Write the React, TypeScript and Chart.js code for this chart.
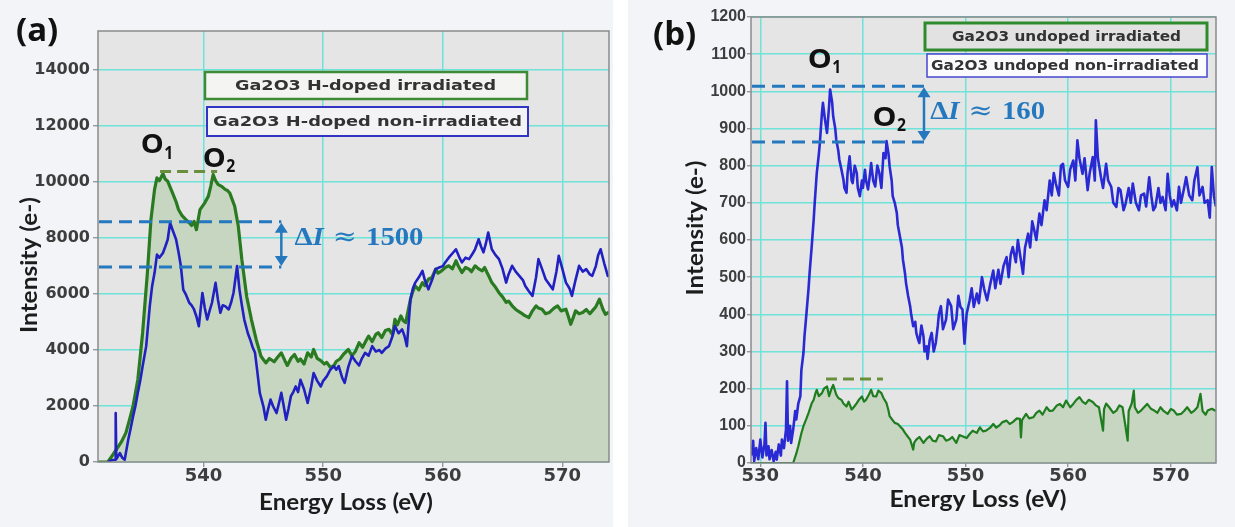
import React, { useEffect, useRef } from "react";
import { Chart, registerables } from "chart.js";
Chart.register(...registerables);

// ---------------- Panel (a) data: [energy (eV), intensity (e-)] ----------------
const aIrradiated: [number, number][] = [
  [531.2, 0], [532.0, 0], [532.4, 250], [532.7, 440], [533.1, 700], [533.5, 1040], [533.8, 1500], [534.1, 2000],
  [534.5, 2940], [534.9, 4610], [535.3, 6760], [535.6, 8670], [535.9, 9740], [536.1, 10150], [536.3, 10050],
  [536.6, 10300], [536.8, 10100], [537.0, 10030], [537.4, 9620], [537.7, 9300], [537.9, 9020], [538.2, 8800],
  [538.5, 8670], [538.8, 8550], [539.0, 8450], [539.2, 8600], [539.4, 8300], [539.7, 9020], [540.1, 9260],
  [540.4, 9500], [540.6, 9860], [540.8, 10270], [541.0, 10050], [541.2, 9920], [541.5, 9850], [541.8, 9740],
  [542.0, 9700], [542.2, 9600], [542.6, 9140], [542.9, 8430], [543.2, 7230], [543.6, 5920], [544.0, 5090],
  [544.4, 4370], [544.8, 3780], [545.2, 3540], [545.5, 3700], [545.9, 3580], [546.2, 3750], [546.5, 3900],
  [546.8, 3620], [547.0, 3450], [547.3, 3700], [547.6, 3840], [547.9, 3600], [548.1, 3680], [548.4, 3500],
  [548.7, 3900], [549.0, 3750], [549.2, 4020], [549.5, 3700], [549.8, 3620], [550.1, 3500], [550.3, 3560],
  [550.6, 3380], [550.9, 3450], [551.1, 3600], [551.4, 3680], [551.7, 3850], [552.1, 4020], [552.4, 3800],
  [552.7, 3960], [553.0, 4260], [553.3, 4100], [553.6, 4350], [553.8, 4500], [554.1, 4300], [554.4, 4560],
  [554.6, 4620], [554.9, 4450], [555.2, 4700], [555.5, 4740], [555.8, 4550], [556.0, 5100], [556.2, 4900],
  [556.5, 5220], [556.7, 5050], [556.9, 4980], [557.1, 5400], [557.3, 5820], [557.5, 6100], [557.7, 6290],
  [558.0, 6150], [558.3, 6410], [558.5, 6300], [558.8, 6530], [559.1, 6600], [559.4, 6890], [559.6, 6750],
  [559.9, 6830], [560.2, 6950], [560.5, 7010], [560.8, 6900], [561.1, 7190], [561.3, 7000], [561.6, 6770],
  [561.9, 6950], [562.2, 6890], [562.4, 6800], [562.7, 7010], [563.0, 6900], [563.3, 6830], [563.5, 6950],
  [563.7, 6770], [563.9, 6600], [564.1, 6410], [564.4, 6250], [564.7, 6050], [565.0, 5900], [565.3, 5700],
  [565.5, 5750], [565.8, 5580], [566.1, 5450], [566.5, 5340], [566.8, 5250], [567.2, 5160], [567.5, 5400],
  [567.8, 5580], [568.0, 5500], [568.3, 5460], [568.6, 5300], [568.9, 5340], [569.3, 5500], [569.6, 5580],
  [569.9, 5400], [570.3, 5460], [570.5, 5200], [570.7, 4920], [570.9, 5150], [571.1, 5400], [571.4, 5300],
  [571.7, 5340], [572.0, 5450], [572.3, 5300], [572.5, 5400], [572.8, 5550], [573.1, 5815], [573.4, 5450],
  [573.6, 5280], [573.9, 5350],
];

const aNonIrradiated: [number, number][] = [
  [532.0, 0], [532.3, 60], [532.6, 80], [532.65, 1750], [532.7, 100], [533.0, 320], [533.2, 150], [533.4, 80],
  [533.7, 800], [533.9, 1200], [534.1, 1630], [534.3, 2000], [534.5, 2470], [534.7, 2900], [534.9, 3420],
  [535.2, 4140], [535.5, 5570], [535.7, 6300], [535.9, 6760], [536.1, 7410], [536.3, 7300], [536.6, 7470],
  [536.8, 7700], [537.0, 7950], [537.2, 8550], [537.4, 8300], [537.7, 7950], [537.9, 7500], [538.1, 7000],
  [538.3, 6160], [538.5, 6000], [538.8, 5690], [539.0, 5600], [539.2, 5450], [539.4, 5200], [539.6, 4850],
  [539.9, 6040], [540.1, 5500], [540.3, 5090], [540.5, 5400], [540.7, 5690], [541.0, 6400], [541.2, 5800],
  [541.4, 5330], [541.6, 5600], [541.8, 5570], [542.1, 5450], [542.3, 5700], [542.5, 6040], [542.8, 7000],
  [543.0, 6160], [543.2, 5600], [543.4, 5090], [543.7, 4600], [543.9, 4370], [544.1, 4100], [544.3, 3900],
  [544.5, 3200], [544.7, 2470], [545.0, 1990], [545.2, 1510], [545.4, 1900], [545.6, 2230], [545.8, 2000],
  [546.1, 1750], [546.3, 2100], [546.5, 2470], [546.7, 2000], [546.9, 1510], [547.1, 1900], [547.3, 2350],
  [547.5, 2500], [547.7, 2700], [547.9, 2500], [548.1, 2940], [548.4, 2600], [548.7, 2110], [549.0, 2700],
  [549.2, 3180], [549.5, 2900], [549.8, 2700], [550.0, 2900], [550.3, 3060], [550.6, 3300], [550.9, 3420],
  [551.1, 3300], [551.3, 3430], [551.6, 3000], [551.8, 2830], [552.1, 3400], [552.4, 3785], [552.7, 3600],
  [553.0, 3450], [553.2, 3665], [553.5, 3900], [553.8, 3800], [554.1, 4140], [554.4, 3950], [554.7, 4000],
  [554.9, 3900], [555.2, 4050], [555.5, 4140], [555.8, 4500], [556.0, 4860], [556.3, 4600], [556.6, 4740],
  [556.8, 4500], [557.0, 4140], [557.3, 5815], [557.5, 6200], [557.7, 6410], [558.0, 6600], [558.3, 6830],
  [558.5, 6500], [558.8, 6170], [559.1, 6500], [559.4, 6890], [559.7, 6950], [560.0, 7000], [560.2, 7130],
  [560.5, 7300], [560.8, 7450], [561.1, 7600], [561.4, 7300], [561.6, 7130], [561.9, 7300], [562.2, 7250],
  [562.5, 7450], [562.7, 7600], [563.0, 7960], [563.2, 7700], [563.4, 7490], [563.6, 7800], [563.8, 8200],
  [564.1, 7600], [564.4, 7400], [564.7, 7250], [565.0, 6900], [565.3, 6410], [565.5, 6700], [565.8, 7010],
  [566.1, 6800], [566.4, 6650], [566.7, 6500], [566.9, 6290], [567.2, 6100], [567.5, 5935], [567.8, 6600],
  [568.0, 7250], [568.3, 6900], [568.6, 6530], [568.9, 6350], [569.2, 6170], [569.5, 6800], [569.7, 7370],
  [570.0, 6900], [570.3, 6410], [570.6, 6200], [570.8, 5935], [571.1, 6500], [571.4, 7010], [571.7, 6800],
  [572.0, 6890], [572.3, 6700], [572.5, 6650], [572.8, 7000], [573.0, 7400], [573.2, 7600], [573.5, 7100],
  [573.8, 6650], [573.9, 6700],
];

const aXTicks = [540, 550, 560, 570];
const aYTicks = [0, 2000, 4000, 6000, 8000, 10000, 12000, 14000];
const aLegendLabels = ["Ga2O3 H-doped irradiated", "Ga2O3 H-doped non-irradiated"];
const aPeakNames = ["O", "O"];
const aPeakSubs = ["1", "2"];
const aPeakLabelX = [535.7, 540.9];
const aPeakLabelY = [11300, 10810];
const aPeakBarX = [536.36, 541.13];
const aPeakBarLevel = 10380;
const aDeltaLevels = [8580, 6970];
const aDeltaArrowX = 546.5;
const aDeltaValue = "1500";
const aDeltaTextAt = [547.6, 7990];

// ---------------- Panel (b) data ----------------
const bIrradiated: [number, number][] = [
  [529.1, 0], [532.0, 0], [533.2, 0], [533.5, 25], [533.7, 45], [534.0, 80], [534.2, 99], [534.5, 120],
  [534.7, 135], [535.0, 160], [535.2, 170], [535.4, 190], [535.5, 197], [535.7, 180], [536.0, 188],
  [536.2, 200], [536.5, 206], [536.7, 180], [536.9, 197], [537.1, 210], [537.4, 184], [537.6, 175],
  [537.9, 170], [538.1, 160], [538.4, 152], [538.6, 165], [538.9, 144], [539.1, 150], [539.4, 161],
  [539.6, 170], [539.9, 179], [540.1, 165], [540.3, 170], [540.6, 185], [540.8, 197], [541.0, 180],
  [541.3, 179], [541.5, 195], [541.8, 188], [542.0, 175], [542.3, 161], [542.5, 140], [542.6, 126],
  [542.9, 115], [543.1, 108], [543.4, 105], [543.6, 99], [543.9, 90], [544.1, 81], [544.4, 70], [544.6, 63],
  [544.9, 36], [545.0, 55], [545.2, 63], [545.5, 70], [545.9, 54], [546.2, 65], [546.5, 72], [546.8, 60],
  [547.1, 58], [547.4, 75], [547.8, 72], [548.1, 60], [548.4, 63], [548.7, 70], [549.1, 54], [549.4, 75],
  [549.7, 72], [550.1, 67], [550.4, 78], [550.7, 87], [551.1, 81], [551.4, 96], [551.7, 85], [552.0, 87],
  [552.4, 95], [552.7, 105], [553.0, 95], [553.3, 101], [553.6, 110], [554.0, 114], [554.3, 105],
  [554.6, 110], [555.0, 120], [555.3, 119], [555.4, 69], [555.5, 115], [555.9, 132], [556.2, 120],
  [556.6, 123], [556.9, 135], [557.2, 141], [557.5, 130], [557.9, 150], [558.2, 140], [558.5, 141],
  [558.9, 155], [559.2, 159], [559.5, 150], [559.8, 168], [560.2, 150], [560.5, 159], [560.8, 170],
  [561.1, 177], [561.4, 165], [561.7, 159], [562.0, 170], [562.4, 164], [562.7, 155], [563.0, 150],
  [563.4, 87], [563.5, 145], [563.7, 160], [564.0, 150], [564.4, 135], [564.7, 141], [565.0, 155],
  [565.3, 150], [565.8, 60], [565.9, 140], [566.2, 160], [566.4, 195], [566.5, 150], [566.8, 135],
  [567.1, 141], [567.4, 150], [567.7, 159], [568.1, 145], [568.4, 141], [568.7, 135], [569.0, 150],
  [569.3, 140], [569.7, 132], [570.0, 145], [570.3, 141], [570.6, 130], [571.0, 132], [571.3, 140],
  [571.6, 150], [572.0, 135], [572.3, 141], [572.6, 150], [572.9, 186], [573.1, 140], [573.4, 130],
  [573.6, 141], [574.0, 146], [574.4, 140],
];

const bNonIrradiated: [number, number][] = [
  [529.1, 20], [529.3, 60], [529.4, 5], [529.6, 40], [529.8, 10], [530.0, 63], [530.2, 15], [530.4, 50],
  [530.5, 108], [530.6, 20], [530.8, 45], [530.9, 10], [531.1, 35], [531.3, 5], [531.5, 30], [531.6, 9],
  [531.8, 50], [532.0, 20], [532.1, 63], [532.3, 40], [532.5, 90], [532.6, 220], [532.7, 60], [532.9, 100],
  [533.0, 54], [533.2, 90], [533.4, 140], [533.5, 117], [533.7, 160], [533.9, 180], [534.0, 250],
  [534.2, 296], [534.3, 340], [534.5, 404], [534.7, 470], [534.8, 511], [535.0, 580], [535.2, 655],
  [535.3, 700], [535.5, 780], [535.7, 830], [535.8, 861], [536.0, 940], [536.1, 969], [536.3, 924],
  [536.5, 888], [536.7, 960], [536.8, 1005], [537.0, 970], [537.1, 933], [537.3, 900], [537.4, 870],
  [537.6, 840], [537.7, 816], [537.9, 790], [538.1, 762], [538.2, 740], [538.4, 727], [538.5, 780],
  [538.7, 825], [538.9, 760], [539.0, 753], [539.2, 800], [539.4, 780], [539.5, 740], [539.7, 718],
  [539.9, 760], [540.0, 740], [540.2, 789], [540.3, 760], [540.5, 736], [540.7, 780], [540.8, 807],
  [541.0, 760], [541.2, 744], [541.4, 800], [541.6, 780], [541.8, 740], [542.0, 834], [542.2, 820],
  [542.3, 866], [542.5, 830], [542.6, 798], [542.8, 760], [542.9, 718], [543.1, 700], [543.3, 673],
  [543.4, 640], [543.6, 610], [543.8, 580], [543.9, 547], [544.1, 510], [544.2, 484], [544.4, 450],
  [544.6, 422], [544.7, 400], [544.9, 368], [545.1, 380], [545.2, 350], [545.4, 330], [545.5, 323],
  [545.7, 370], [545.9, 341], [546.0, 300], [546.2, 314], [546.3, 280], [546.5, 330], [546.7, 350],
  [546.9, 300], [547.1, 323], [547.3, 370], [547.4, 400], [547.6, 422], [547.8, 360], [548.1, 386],
  [548.3, 440], [548.6, 422], [548.8, 360], [549.1, 386], [549.3, 450], [549.5, 420], [549.7, 413],
  [549.9, 321], [550.1, 400], [550.4, 438], [550.6, 470], [550.8, 420], [551.1, 456], [551.3, 430],
  [551.6, 500], [551.8, 470], [552.1, 438], [552.4, 480], [552.7, 518], [552.9, 470], [553.2, 520],
  [553.4, 482], [553.7, 530], [554.0, 554], [554.2, 500], [554.4, 560], [554.6, 581], [554.9, 540],
  [555.1, 600], [555.3, 563], [555.6, 509], [555.8, 580], [556.1, 617], [556.3, 580], [556.5, 650],
  [556.7, 626], [556.9, 600], [557.2, 671], [557.4, 640], [557.7, 707], [557.9, 680], [558.2, 760],
  [558.4, 720], [558.6, 780], [558.8, 752], [559.1, 720], [559.3, 800], [559.5, 805], [559.7, 760],
  [560.0, 743], [560.2, 790], [560.5, 814], [560.7, 760], [560.9, 868], [561.1, 820], [561.4, 778],
  [561.6, 820], [561.9, 734], [562.1, 780], [562.4, 823], [562.6, 760], [562.7, 922], [562.9, 820],
  [563.2, 769], [563.4, 740], [563.7, 805], [563.9, 760], [564.2, 743], [564.4, 700], [564.7, 689],
  [564.9, 740], [565.1, 734], [565.4, 680], [565.6, 698], [565.9, 740], [566.1, 700], [566.3, 752],
  [566.6, 700], [566.9, 680], [567.1, 720], [567.4, 725], [567.6, 690], [567.9, 769], [568.1, 720],
  [568.3, 680], [568.5, 689], [568.8, 740], [569.0, 700], [569.2, 716], [569.5, 680], [569.7, 778],
  [569.9, 720], [570.1, 690], [570.3, 707], [570.6, 680], [570.8, 743], [571.0, 700], [571.3, 740],
  [571.5, 769], [571.8, 720], [572.1, 707], [572.3, 760], [572.6, 796], [572.8, 720], [573.1, 743],
  [573.3, 700], [573.6, 707], [573.8, 660], [574.0, 796], [574.2, 720], [574.4, 690],
];

const bXTicks = [530, 540, 550, 560, 570];
const bYTicks = [0, 100, 200, 300, 400, 500, 600, 700, 800, 900, 1000, 1100, 1200];
const bLegendLabels = ["Ga2O3 undoped irradiated", "Ga2O3 undoped non-irradiated"];
const bPeakNames = ["O", "O"];
const bPeakSubs = ["1", "2"];
const bPeakLabelX = [535.8, 542.1];
const bPeakLabelY = [1083, 927];
const bPeakBarX = [536.4, 541.95];
const bPeakBarLevel = 226;
const bDeltaLevels = [1014, 864];
const bDeltaArrowX = 545.95;
const bDeltaValue = "160";
const bDeltaTextAt = [546.55, 943];

// ---------------- drawing helpers ----------------
function drawScaled(ctx: CanvasRenderingContext2D, text: string, cx: number, cy: number, targetW: number, font: string, color: string, rotate = false) {
  ctx.save();
  ctx.font = font;
  ctx.fillStyle = color;
  ctx.textAlign = "center";
  ctx.textBaseline = "middle";
  const w = ctx.measureText(text).width || 1;
  let s = targetW / w;
  s = Math.max(0.75, Math.min(1.35, s));
  ctx.translate(cx, cy);
  if (rotate) ctx.rotate(-Math.PI / 2);
  ctx.scale(s, 1);
  ctx.fillText(text, 0, 0);
  ctx.restore();
}

type Panel = {
  canvasW: number;
  canvasH: number;
  area: { left: number; right: number; top: number; bottom: number };
  xMin: number;
  xMax: number;
  yMax: number;
  xTicks: number[];
  yTicks: number[];
  green: [number, number][];
  blue: [number, number][];
  greenColor: string;
  blueColor: string;
  greenWidth: number;
  blueWidth: number;
  yTickFont: any;
  xTickFont: any;
  yTickPad: number;
  tickLen: number;
  xTitle: [number, number, number];
  yTitle: [number, number, number];
  legends: { text: string; box: [number, number, number, number]; border: string; bw: number; bg: string; tx: number; tw: number }[];
  peakNames: string[];
  peakSubs: string[];
  peakX: number[];
  peakY: number[];
  oWidth: number;
  oFont: number;
  peakBarX: number[];
  peakBarLevel: number;
  deltaLevels: number[];
  deltaArrowX: number;
  deltaValue: string;
  deltaTextAt: number[];
  deltaTextW: number;
  deltaFont: number;
};

const ANNOT_BLUE = "#2578bd";
const FILL = "#c6d6c1";
const GRID = "#6fe2d9";

function makeConfig(p: Panel): any {
  const decor = {
    id: "decor",
    beforeDraw(chart: any) {
      const { ctx, chartArea: a } = chart;
      ctx.save();
      ctx.fillStyle = "#e5e5e5";
      ctx.fillRect(a.left, a.top, a.right - a.left, a.bottom - a.top);
      ctx.restore();
    },
    afterDatasetsDraw(chart: any) {
      const { ctx, chartArea: a, scales } = chart;
      const xs = scales.x;
      const ys = scales.y;
      // frame
      ctx.save();
      ctx.strokeStyle = "#8a8a8a";
      ctx.lineWidth = 1.5;
      ctx.strokeRect(a.left, a.top, a.right - a.left, a.bottom - a.top);
      ctx.restore();

      // legends
      p.legends.forEach((lg) => {
        const [x0, y0, x1, y1] = lg.box;
        ctx.save();
        ctx.fillStyle = lg.bg;
        ctx.fillRect(x0, y0, x1 - x0, y1 - y0);
        ctx.strokeStyle = lg.border;
        ctx.lineWidth = lg.bw;
        ctx.strokeRect(x0, y0, x1 - x0, y1 - y0);
        ctx.restore();
        drawScaled(ctx, lg.text, lg.tx, (y0 + y1) / 2 + 0.5, lg.tw, 'bold 14px "DejaVu Sans"', "#333333");
      });

      // peak bar (green dashed)
      ctx.save();
      ctx.strokeStyle = "#6a8f3c";
      ctx.lineWidth = 3;
      ctx.setLineDash([11, 6]);
      const pbY = ys.getPixelForValue(p.peakBarLevel);
      ctx.beginPath();
      ctx.moveTo(xs.getPixelForValue(p.peakBarX[0]), pbY);
      ctx.lineTo(xs.getPixelForValue(p.peakBarX[1]), pbY);
      ctx.stroke();
      ctx.restore();

      // delta dashed lines
      const ax = xs.getPixelForValue(p.deltaArrowX);
      const yA = ys.getPixelForValue(p.deltaLevels[0]);
      const yB = ys.getPixelForValue(p.deltaLevels[1]);
      ctx.save();
      ctx.strokeStyle = ANNOT_BLUE;
      ctx.lineWidth = 3;
      ctx.setLineDash([13, 7]);
      [yA, yB].forEach((yy) => {
        ctx.beginPath();
        ctx.moveTo(a.left + 1, yy);
        ctx.lineTo(ax, yy);
        ctx.stroke();
      });
      ctx.setLineDash([]);
      // double arrow
      ctx.lineWidth = 2.5;
      ctx.beginPath();
      ctx.moveTo(ax, yA + 9);
      ctx.lineTo(ax, yB - 9);
      ctx.stroke();
      ctx.fillStyle = ANNOT_BLUE;
      ctx.beginPath();
      ctx.moveTo(ax, yA + 1);
      ctx.lineTo(ax - 6.5, yA + 11);
      ctx.lineTo(ax + 6.5, yA + 11);
      ctx.closePath();
      ctx.fill();
      ctx.beginPath();
      ctx.moveTo(ax, yB - 1);
      ctx.lineTo(ax - 6.5, yB - 11);
      ctx.lineTo(ax + 6.5, yB - 11);
      ctx.closePath();
      ctx.fill();
      ctx.restore();

      // delta text: ΔI ≈ value
      const fs = p.deltaFont;
      const parts = [
        { t: "Δ", f: `bold ${fs}px "Liberation Serif"` },
        { t: "I", f: `italic bold ${fs}px "Liberation Serif"` },
        { t: " ≈ ", f: `${fs}px "DejaVu Serif"` },
        { t: p.deltaValue, f: `bold ${fs}px "Liberation Serif"` },
      ];
      ctx.save();
      let total = 0;
      const widths = parts.map((pt) => {
        ctx.font = pt.f;
        const w = ctx.measureText(pt.t).width;
        total += w;
        return w;
      });
      const sc = Math.max(0.8, Math.min(1.4, p.deltaTextW / total));
      ctx.translate(xs.getPixelForValue(p.deltaTextAt[0]), ys.getPixelForValue(p.deltaTextAt[1]));
      ctx.scale(sc, 1);
      ctx.fillStyle = ANNOT_BLUE;
      ctx.textBaseline = "middle";
      ctx.textAlign = "left";
      let cx = 0;
      parts.forEach((pt, i) => {
        ctx.font = pt.f;
        ctx.fillText(pt.t, cx, 0);
        cx += widths[i];
      });
      ctx.restore();

      // peak labels
      p.peakNames.forEach((name, i) => {
        const px = xs.getPixelForValue(p.peakX[i]);
        const py = ys.getPixelForValue(p.peakY[i]);
        drawScaled(ctx, name, px, py, p.oWidth, `bold ${p.oFont}px "Open Sans"`, "#111111");
        drawScaled(ctx, p.peakSubs[i], px + p.oWidth / 2 + 5, py + 8, 9, 'bold 17px "Open Sans"', "#111111");
      });

      // axis titles
      drawScaled(ctx, "Energy Loss (eV)", p.xTitle[0], p.xTitle[1], p.xTitle[2], 'bold 23px "Lato"', "#1c1c1c");
      drawScaled(ctx, "Intensity (e-)", p.yTitle[0], p.yTitle[1], p.yTitle[2], 'bold 23px "Lato"', "#1c1c1c", true);
    },
  };

  return {
    type: "line",
    data: {
      datasets: [
        {
          label: "non-irradiated",
          data: p.blue.map(([x, y]) => ({ x, y })),
          borderColor: p.blueColor,
          borderWidth: p.blueWidth,
          pointRadius: 0,
          fill: false,
          tension: 0,
          borderJoinStyle: "round",
        },
        {
          label: "irradiated",
          data: p.green.map(([x, y]) => ({ x, y })),
          borderColor: p.greenColor,
          borderWidth: p.greenWidth,
          backgroundColor: FILL,
          pointRadius: 0,
          fill: "origin",
          tension: 0,
          borderJoinStyle: "round",
        },
      ],
    },
    options: {
      animation: false,
      responsive: false,
      maintainAspectRatio: false,
      events: [],
      layout: { padding: { left: 0, top: p.area.top, right: p.canvasW - p.area.right, bottom: 0 } },
      plugins: { legend: { display: false }, tooltip: { enabled: false } },
      scales: {
        x: {
          type: "linear",
          min: p.xMin,
          max: p.xMax,
          bounds: "data",
          afterBuildTicks: (s: any) => {
            s.ticks = p.xTicks.map((v) => ({ value: v }));
          },
          afterFit: (s: any) => {
            s.height = p.canvasH - p.area.bottom;
          },
          ticks: {
            autoSkip: false,
            maxRotation: 0,
            padding: 0,
            color: "#3d3d3d",
            font: p.xTickFont,
            callback: (v: any) => String(v),
          },
          grid: { color: GRID, lineWidth: 1.5, drawTicks: true, tickLength: p.tickLen, tickColor: "#888888", tickWidth: 1.2 },
          border: { display: false },
        },
        y: {
          type: "linear",
          min: 0,
          max: p.yMax,
          bounds: "data",
          afterBuildTicks: (s: any) => {
            s.ticks = p.yTicks.map((v) => ({ value: v }));
          },
          afterFit: (s: any) => {
            s.width = p.area.left;
          },
          ticks: {
            autoSkip: false,
            padding: p.yTickPad,
            color: "#3d3d3d",
            font: p.yTickFont,
            callback: (v: any) => String(v),
          },
          grid: { color: GRID, lineWidth: 1.5, drawTicks: true, tickLength: p.tickLen, tickColor: "#888888", tickWidth: 1.2 },
          border: { display: false },
        },
      },
    },
    plugins: [decor],
  };
}

const panelA: Panel = {
  canvasW: 613,
  canvasH: 527,
  area: { left: 98, right: 609, top: 31, bottom: 462 },
  xMin: 531.17,
  xMax: 573.9,
  yMax: 15400,
  xTicks: aXTicks,
  yTicks: aYTicks,
  green: aIrradiated,
  blue: aNonIrradiated,
  greenColor: "#2a7a22",
  blueColor: "#2121c2",
  greenWidth: 3.2,
  blueWidth: 2.6,
  yTickFont: { family: '"DejaVu Sans"', size: 16, weight: "bold" },
  xTickFont: { family: '"DejaVu Sans"', size: 18, weight: "bold", lineHeight: 1 },
  yTickPad: 3,
  tickLen: 5,
  xTitle: [346, 503, 174],
  yTitle: [30, 265, 136],
  legends: [
    { text: aLegendLabels[0], box: [205, 72, 527, 99], border: "#3e8a37", bw: 2.5, bg: "#f4f4f2", tx: 365.5, tw: 261 },
    { text: aLegendLabels[1], box: [207, 107, 528, 136], border: "#3434c4", bw: 2, bg: "#f3f3f6", tx: 367.5, tw: 309 },
  ],
  peakNames: aPeakNames,
  peakSubs: aPeakSubs,
  peakX: aPeakLabelX,
  peakY: aPeakLabelY,
  oWidth: 23,
  oFont: 26,
  peakBarX: aPeakBarX,
  peakBarLevel: aPeakBarLevel,
  deltaLevels: aDeltaLevels,
  deltaArrowX: aDeltaArrowX,
  deltaValue: aDeltaValue,
  deltaTextAt: aDeltaTextAt,
  deltaTextW: 129,
  deltaFont: 26,
};

const panelB: Panel = {
  canvasW: 607,
  canvasH: 527,
  area: { left: 123, right: 588, top: 17, bottom: 463 },
  xMin: 529.09,
  xMax: 574.41,
  yMax: 1200,
  xTicks: bXTicks,
  yTicks: bYTicks,
  green: bIrradiated,
  blue: bNonIrradiated,
  greenColor: "#1f7d1f",
  blueColor: "#2a2ad4",
  greenWidth: 2.2,
  blueWidth: 2.6,
  yTickFont: { family: '"Liberation Sans"', size: 16, weight: "bold" },
  xTickFont: { family: '"DejaVu Sans"', size: 18, weight: "bold", lineHeight: 1 },
  yTickPad: 1,
  tickLen: 4,
  xTitle: [350, 500, 177],
  yTitle: [68, 228, 135],
  legends: [
    { text: bLegendLabels[0], box: [297, 23, 579, 50], border: "#2e8b2e", bw: 3, bg: "#e2e2e2", tx: 438.5, tw: 229 },
    { text: bLegendLabels[1], box: [299, 54, 579, 77], border: "#4646d2", bw: 1.5, bg: "#fbfbfd", tx: 437, tw: 268 },
  ],
  peakNames: bPeakNames,
  peakSubs: bPeakSubs,
  peakX: bPeakLabelX,
  peakY: bPeakLabelY,
  oWidth: 24,
  oFont: 26,
  peakBarX: bPeakBarX,
  peakBarLevel: bPeakBarLevel,
  deltaLevels: bDeltaLevels,
  deltaArrowX: bDeltaArrowX,
  deltaValue: bDeltaValue,
  deltaTextAt: bDeltaTextAt,
  deltaTextW: 115,
  deltaFont: 26,
};

export default function App() {
  const aRef = useRef<HTMLCanvasElement>(null);
  const bRef = useRef<HTMLCanvasElement>(null);

  useEffect(() => {
    const ca = new Chart(aRef.current as HTMLCanvasElement, makeConfig(panelA));
    const cb = new Chart(bRef.current as HTMLCanvasElement, makeConfig(panelB));
    return () => {
      ca.destroy();
      cb.destroy();
    };
  }, []);

  const letter: React.CSSProperties = {
    position: "absolute",
    fontFamily: '"Open Sans", sans-serif',
    fontWeight: 700,
    fontSize: 33,
    lineHeight: "33px",
    color: "#111",
  };

  return (
    <div style={{ position: "absolute", left: 0, top: 0, width: 1235, height: 527, background: "#ffffff", overflow: "hidden" }}>
      <div style={{ position: "absolute", left: 0, top: 0, width: 613, height: 527, background: "#f3f4f8" }} />
      <div style={{ position: "absolute", left: 628, top: 0, width: 607, height: 527, background: "#f3f4f8" }} />
      <canvas ref={aRef} width={613} height={527} style={{ position: "absolute", left: 0, top: 0, width: 613, height: 527 }} />
      <canvas ref={bRef} width={607} height={527} style={{ position: "absolute", left: 628, top: 0, width: 607, height: 527 }} />
      <div style={{ ...letter, left: 16, top: 12 }}>(a)</div>
      <div style={{ ...letter, left: 653, top: 16 }}>(b)</div>
    </div>
  );
}
